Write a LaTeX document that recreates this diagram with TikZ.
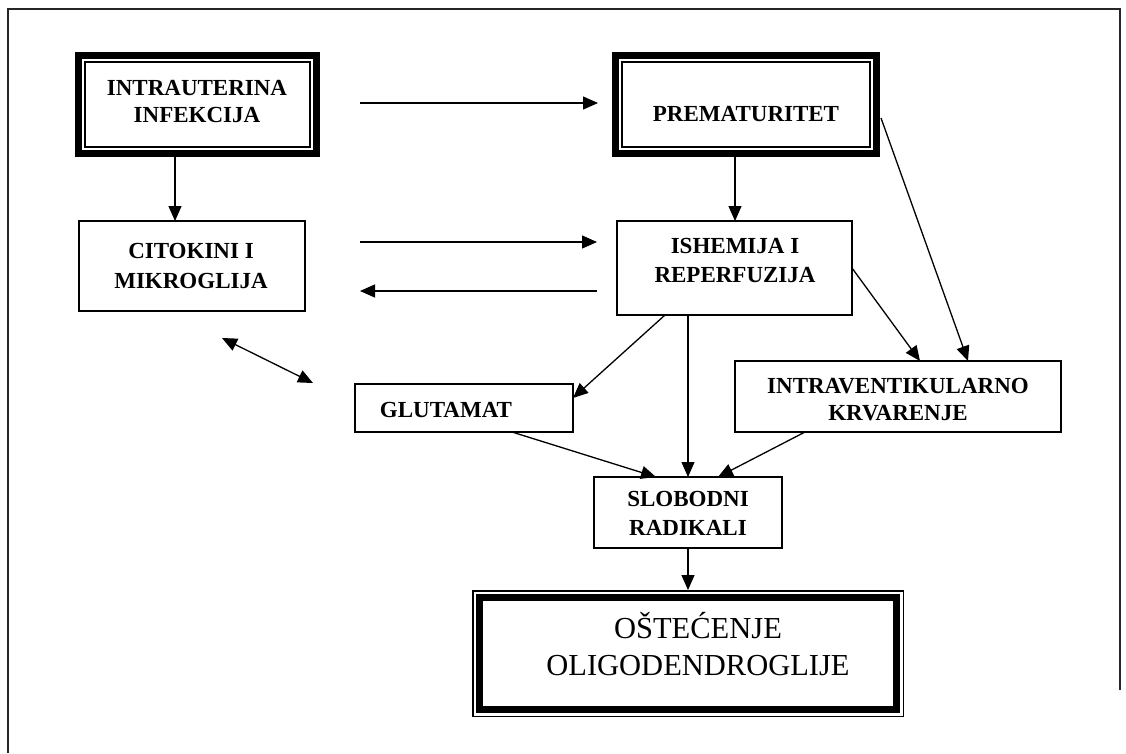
\documentclass[tikz,border=0pt]{standalone}
\usepackage{fontspec}
\setmainfont{Liberation Serif}
\usetikzlibrary{arrows.meta,calc}
\begin{document}
\begin{tikzpicture}[x=1pt,y=-1pt,
  frame/.style={line width=2pt, draw=black!85},
  box/.style={draw, line width=1.6pt, inner sep=0pt, outer sep=0pt},
  hollow/.style={inner sep=0pt, outer sep=0pt},
  lbl/.style={font=\fontsize{23}{28}\selectfont\bfseries, anchor=base, inner sep=0pt},
  biglbl/.style={font=\fontsize{30.5}{37}\selectfont, anchor=base, inner sep=0pt},
  arr/.style={line width=1.3pt, -{Triangle[length=15pt,width=13pt]}},
  darr/.style={line width=1.3pt, {Triangle[length=15pt,width=13pt]}-{Triangle[length=15pt,width=13pt]}},
  thickline/.style={line width=7pt},
  thinline/.style={line width=1.5pt}]
\useasboundingbox (0,0) rectangle (1126,753);
\fill[white] (0,0) rectangle (1126,753);
% outer frame
\draw[frame] (8,753) -- (8,9) -- (1120,9) -- (1120,690);

% double-border boxes (thick outside)
\node[hollow, minimum width=245pt, minimum height=105pt] (intra) at (197.5,104.5) {};
\draw[thickline] (78.5,55.5) rectangle (316.5,153.5);
\draw[thinline] (85,62) rectangle (310,147);
\node[lbl] (intraA) at (197,95) {INTRAUTERINA};
\node[lbl] (intraB) at (197,122) {INFEKCIJA};

\node[hollow, minimum width=268pt, minimum height=105pt] (prem) at (746,104.5) {};
\draw[thickline] (615.5,55.5) rectangle (876.5,153.5);
\draw[thinline] (622,62) rectangle (870,147);
\node[lbl] (premA) at (746,121) {PREMATURITET};

% plain boxes
\node[box, minimum width=226pt, minimum height=90pt] (cit) at (192,266) {};
\node[lbl] (citA) at (191,258) {CITOKINI I};
\node[lbl] (citB) at (191,288) {MIKROGLIJA};

\node[box, minimum width=235pt, minimum height=94pt] (ish) at (734.5,268) {};
\node[lbl] (ishA) at (735,253) {ISHEMIJA I};
\node[lbl] (ishB) at (735,282) {REPERFUZIJA};

\node[box, minimum width=218pt, minimum height=48pt] (glu) at (464,408) {};
\node[lbl] (gluA) at (446,417) {GLUTAMAT};

\node[box, minimum width=326pt, minimum height=71pt] (ivh) at (898,396.5) {};
\node[lbl] (ivhA) at (898,393) {INTRAVENTIKULARNO};
\node[lbl] (ivhB) at (898,420) {KRVARENJE};

\node[box, minimum width=188pt, minimum height=71pt] (slo) at (688,512.5) {};
\node[lbl] (sloA) at (688,506) {SLOBODNI};
\node[lbl] (sloB) at (688,535) {RADIKALI};

% final box (thin outside, thick inside)
\node[hollow, minimum width=432pt, minimum height=127pt] (ost) at (688,653.5) {};
\draw[thinline] (472.75,590.75) rectangle (903.25,716.25);
\draw[thickline] (479.5,597.5) rectangle (896.5,709.5);
\node[biglbl] (ostA) at (698,638) {OŠTEĆENJE};
\node[biglbl] (ostB) at (698,675) {OLIGODENDROGLIJE};

% helper coordinates
\coordinate (intraOut) at ($(intra.south)+(-22.5,0)$);
\coordinate (premOut) at ($(prem.south)+(-11,0)$);

% connectors
\draw[arr] ($(intra.east)+(40,-1.5)$) -- ($(prem.west)+(-14,-1.5)$);
\draw[arr] (intraOut) -- (intraOut |- cit.north);
\draw[arr] (premOut) -- (premOut |- ish.north);
\draw[arr] ($(cit.east)+(55,-24)$) -- ($(ish.west)+(-20,-26)$);
\draw[arr] ($(ish.west)+(-20,23)$) -- ($(cit.east)+(55,25)$);
\draw[darr] ($(cit.south)+(30,27)$) -- ($(glu.west)+(-42,-25)$);
\draw[arr] ($(ish.south)+(-69.5,0)$) -- ($(glu.east)+(0,-10)$);
\draw[arr] (ish.south -| slo.north) -- (slo.north);
\draw[arr] (ish.east) -- ($(ivh.north)+(22,0)$);
\draw[arr] ($(prem.east)+(1,13.5)$) -- ($(ivh.north)+(70,0)$);
\draw[arr] ($(glu.south)+(48,0)$) -- ($(slo.north)+(-32,0)$);
\draw[arr] ($(ivh.south)+(-93,0)$) -- ($(slo.north)+(30,0)$);
\draw[arr] (slo.south) -- (ost.north);
\end{tikzpicture}
\end{document}
